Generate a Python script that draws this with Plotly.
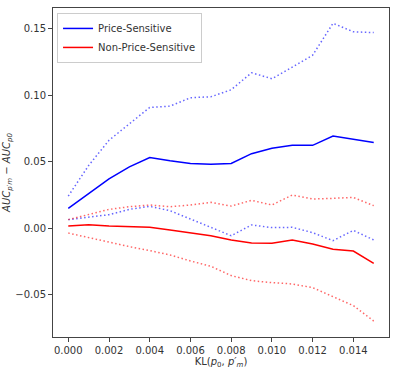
import plotly.graph_objects as go

kl = [0.000, 0.001, 0.002, 0.003, 0.004, 0.005, 0.006, 0.007,
      0.008, 0.009, 0.010, 0.011, 0.012, 0.013, 0.014, 0.015]

ps_mean = [0.0148, 0.026, 0.037, 0.046, 0.053, 0.0506, 0.0486, 0.0479,
           0.0486, 0.0559, 0.060, 0.0622, 0.0622, 0.0692, 0.0669, 0.0644]
ps_upper = [0.024, 0.047, 0.066, 0.0787, 0.0907, 0.0917, 0.098, 0.0987,
            0.104, 0.1168, 0.1123, 0.121, 0.130, 0.154, 0.1476, 0.147]
ps_lower = [0.0063, 0.008, 0.010, 0.014, 0.0163, 0.013, 0.0065, 0.0005,
            -0.0058, 0.0023, 0.0003, 0.0005, -0.0035, -0.0095, -0.0018, -0.009]

nps_mean = [0.0015, 0.0025, 0.0015, 0.001, 0.0005, -0.0015, -0.0035, -0.0058,
            -0.009, -0.0113, -0.0115, -0.009, -0.012, -0.016, -0.0173, -0.0266]
nps_upper = [0.0063, 0.0103, 0.014, 0.016, 0.0173, 0.016, 0.0173, 0.0193,
             0.0165, 0.0208, 0.0173, 0.0248, 0.0218, 0.0223, 0.023, 0.0168]
nps_lower = [-0.0038, -0.0073, -0.0108, -0.014, -0.017, -0.0203, -0.0248, -0.0288,
             -0.0358, -0.0396, -0.0411, -0.0421, -0.0449, -0.0514, -0.0584, -0.070]

fig = go.Figure()

fig.add_trace(go.Scatter(x=kl, y=ps_mean, mode='lines', name='Price-Sensitive',
                         line=dict(color='blue', width=1.5)))
fig.add_trace(go.Scatter(x=kl, y=nps_mean, mode='lines', name='Non-Price-Sensitive',
                         line=dict(color='red', width=1.5)))

# dotted bounds around each mean
for ys, col in [(ps_upper, 'rgba(0,0,255,0.6)'), (ps_lower, 'rgba(0,0,255,0.6)'),
                (nps_upper, 'rgba(255,0,0,0.6)'), (nps_lower, 'rgba(255,0,0,0.6)')]:
    fig.add_trace(go.Scatter(x=kl, y=ys, mode='lines', showlegend=False,
                             line=dict(color=col, width=1.5, dash='1.5px,2.5px')))

axis_style = dict(showline=True, linecolor='#444', linewidth=1, mirror=True,
                  ticks='outside', ticklen=4, tickcolor='#444', showgrid=False,
                  zeroline=False, automargin=False, tickfont=dict(size=10, color='#333'))

fig.update_xaxes(range=[-0.00075, 0.01575], tickvals=[0, 0.002, 0.004, 0.006, 0.008, 0.010, 0.012, 0.014],
                 tickformat='.3f',
                 title=dict(text='KL(<i>p</i><sub>0</sub>, <i>p′<sub>m</sub></i>)',
                            font=dict(size=10, color='#333'), standoff=2),
                 **axis_style)
fig.update_yaxes(range=[-0.082, 0.1655], tickvals=[-0.05, 0, 0.05, 0.10, 0.15],
                 tickformat='.2f',
                 title=dict(text='<i>AUC<sub>p′m</sub></i> − <i>AUC<sub>p0</sub></i>',
                            font=dict(size=10, color='#333'), standoff=2),
                 **axis_style)

fig.update_layout(
    width=395, height=376,
    margin=dict(l=53, r=6, t=8, b=39),
    paper_bgcolor='white',
    plot_bgcolor='white',
    font=dict(family='DejaVu Sans', size=10, color='#333'),
    legend=dict(x=0.012, y=0.985, xanchor='left', yanchor='top',
                bgcolor='rgba(255,255,255,0.8)', bordercolor='#ccc', borderwidth=1,
                font=dict(size=10), tracegroupgap=0, itemwidth=30),
)

fig.write_html("out.html", config={'displayModeBar': False},
               post_script="document.body.style.margin='0';")
